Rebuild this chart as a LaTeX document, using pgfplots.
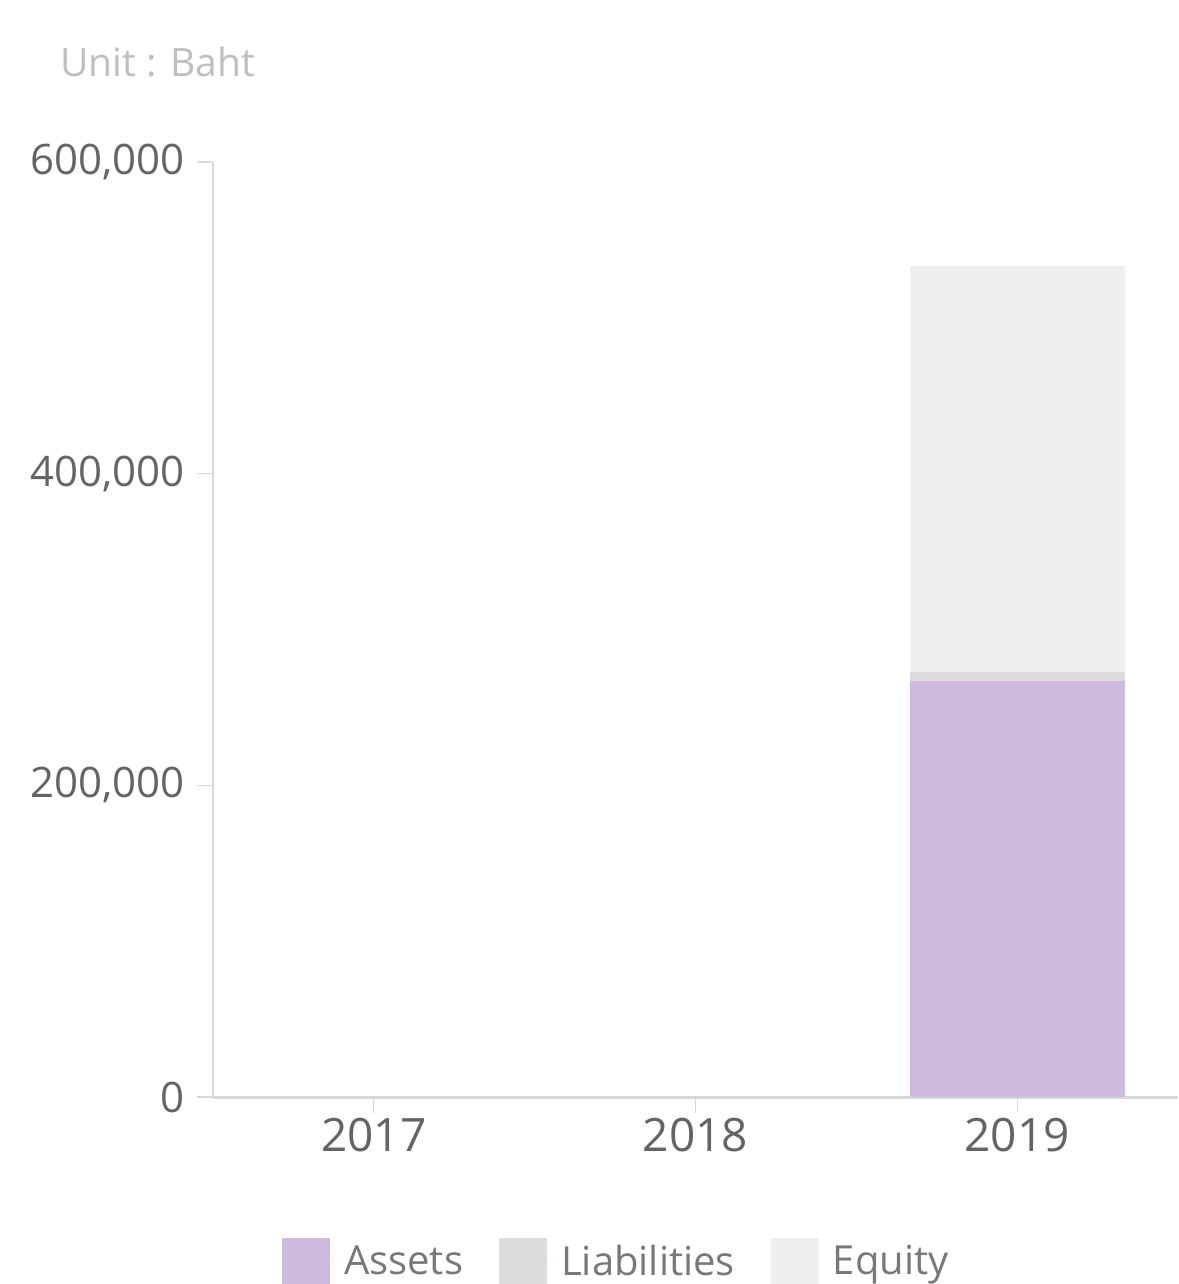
\documentclass[border=0pt]{standalone}
\usepackage{fontspec}
\setmainfont{Open Sans}
\usepackage{pgfplots}
\pgfplotsset{compat=1.18}
\definecolor{assets}{RGB}{208,185,222}
\definecolor{liab}{RGB}{220,220,220}
\definecolor{equity}{RGB}{239,239,239}
\definecolor{ticktext}{RGB}{100,100,100}
\definecolor{legtext}{RGB}{120,120,120}
\definecolor{axisgrey}{RGB}{216,216,216}
\definecolor{unittext}{RGB}{190,190,190}

\begin{document}
\begin{tikzpicture}
\useasboundingbox (0,0) rectangle (589pt,642pt);
\node[anchor=west, text=unittext, inner sep=0pt, font=\fontsize{19.5}{22}\selectfont] at (30pt,611pt) {Unit : Baht};
\begin{axis}[
    at={(106.5pt,93.5pt)}, anchor=south west,
    scale only axis, width=482.5pt, height=467.5pt,
    ybar stacked, bar width=107.5pt,
    xmin=-0.5, xmax=2.5, ymin=0, ymax=600000,
    xtick={0,1,2}, xticklabels={2017,2018,2019},
    ytick={0,200000,400000,600000},
    scaled y ticks=false,
    yticklabel style={/pgf/number format/fixed,
        /pgf/number format/1000 sep={,},
        /pgf/number format/assume math mode=true,
        font=\fontsize{21}{24}\selectfont, xshift=-2.5pt},
    axis x line*=bottom, axis y line*=left,
    x axis line style={-, axisgrey, line width=1.5pt},
    y axis line style={-, axisgrey, line width=0.6pt},
    tick style={axisgrey, line width=0.6pt},
    tick align=outside, major tick length=8pt,
    ticklabel style={text=ticktext},
    xticklabel style={font=\fontsize{23}{26}\selectfont, yshift=1pt},
    legend style={at={(0.419,-0.176)}, anchor=center, draw=none, fill=none,
        legend columns=3, font=\fontsize{20}{22}\selectfont, text=legtext,
        /tikz/every even column/.append style={column sep=16pt}},
    legend image code/.code={\fill[#1] (0pt,-12pt) rectangle (24pt,12pt);
        \path (0pt,0pt) -- (29pt,0pt);},
]
\addplot[fill=assets, draw=none] coordinates {(0,0) (1,0) (2,267000)};
\addplot[fill=liab, draw=none] coordinates {(0,0) (1,0) (2,6000)};
\addplot[fill=equity, draw=none] coordinates {(0,0) (1,0) (2,260000)};
\legend{Assets, Liabilities, Equity}
\end{axis}
\end{tikzpicture}
\end{document}
